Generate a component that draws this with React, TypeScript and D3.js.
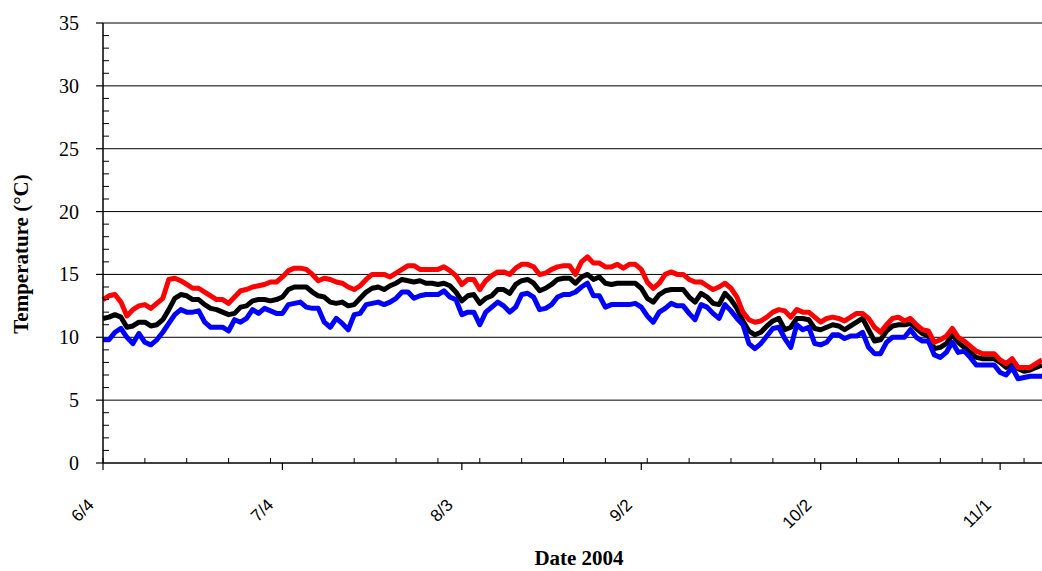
import React from "react";
import * as d3 from "d3";

const startDate = new Date(2004, 5, 4);
const dayCount = 157;
const yTicks = [0, 5, 10, 15, 20, 25, 30, 35];
const xTickEvery = 30;
const xMinorEvery = 7;

// Daily maximum (red), mean (black), minimum (blue) temperatures from 6/4/2004
const maxTemp = [
  13.0, 13.3, 13.4, 12.8, 11.7, 12.2, 12.5, 12.6, 12.3, 12.7, 13.1, 14.6, 14.7, 14.5, 14.2, 13.9,
  13.9, 13.6, 13.3, 13.0, 13.0, 12.7, 13.2, 13.7, 13.8, 14.0, 14.1, 14.2, 14.4, 14.4, 14.8, 15.3,
  15.5, 15.5, 15.4, 15.0, 14.5, 14.7, 14.6, 14.4, 14.3, 14.0, 13.8, 14.1, 14.6, 15.0, 15.0, 15.0,
  14.8, 15.1, 15.4, 15.7, 15.7, 15.4, 15.4, 15.4, 15.4, 15.6, 15.3, 14.9, 14.2, 14.6, 14.6,
  13.8, 14.5, 14.9, 15.2, 15.2, 15.0, 15.5, 15.8, 15.8, 15.6, 15.0, 15.1, 15.4, 15.6, 15.7, 15.7,
  15.0, 16.0, 16.4, 15.9, 15.9, 15.6, 15.6, 15.8, 15.5, 15.8, 15.8, 15.4, 14.4, 13.9, 14.3, 15.0,
  15.2, 15.0, 15.0, 14.6, 14.4, 14.4, 14.1, 13.8, 14.0, 14.3, 13.9, 13.2, 12.0, 11.4, 11.2, 11.3,
  11.6, 12.0, 12.2, 12.1, 11.6, 12.2, 12.0, 12.0, 11.6, 11.2, 11.5, 11.6, 11.5, 11.3, 11.6,
  11.9, 11.9, 11.5, 10.8, 10.4, 11.0, 11.5, 11.6, 11.3, 11.5, 11.0, 10.6, 10.5, 9.6, 9.8, 10.1,
  10.7, 10.0, 9.7, 9.3, 8.9, 8.7, 8.7, 8.7, 8.2, 7.9, 8.3, 7.6, 7.6, 7.6, 7.9, 8.2,
];

const meanTemp = [
  11.5, 11.6, 11.8, 11.6, 10.8, 10.9, 11.2, 11.2, 10.9, 11.0, 11.4, 12.2, 13.1, 13.4, 13.3, 13.0,
  13.0, 12.6, 12.3, 12.2, 12.0, 11.8, 11.9, 12.4, 12.5, 12.9, 13.0, 13.0, 12.9, 13.0, 13.2, 13.8,
  14.0, 14.0, 14.0, 13.6, 13.3, 13.2, 12.8, 12.7, 12.8, 12.5, 12.6, 13.1, 13.6, 13.9, 14.0, 13.8,
  14.1, 14.3, 14.6, 14.5, 14.4, 14.5, 14.3, 14.3, 14.2, 14.3, 14.1, 13.6, 12.9, 13.3, 13.4,
  12.7, 13.1, 13.3, 13.8, 13.8, 13.5, 14.2, 14.5, 14.6, 14.3, 13.7, 13.9, 14.2, 14.6, 14.7, 14.7,
  14.3, 14.8, 15.0, 14.6, 14.8, 14.3, 14.2, 14.3, 14.3, 14.3, 14.3, 13.9, 13.1, 12.8, 13.4, 13.7,
  13.8, 13.8, 13.8, 13.2, 12.8, 13.5, 13.2, 12.7, 12.6, 13.5, 13.0, 12.3, 11.3, 10.5, 10.2, 10.4,
  10.9, 11.3, 11.5, 10.6, 10.8, 11.5, 11.5, 11.4, 10.7, 10.6, 10.8, 11.0, 10.9, 10.6, 10.9,
  11.2, 11.5, 10.6, 9.7, 9.8, 10.5, 10.9, 11.0, 11.0, 11.1, 10.7, 10.3, 10.1, 9.1, 9.2, 9.5,
  10.2, 9.6, 9.2, 8.8, 8.4, 8.3, 8.3, 8.3, 8.0, 7.6, 7.9, 7.5, 7.3, 7.4, 7.6, 7.8,
];

const minTemp = [
  9.8, 9.8, 10.4, 10.7, 10.0, 9.5, 10.3, 9.6, 9.4, 9.8, 10.4, 11.1, 11.8, 12.2, 12.0, 12.0,
  12.1, 11.2, 10.8, 10.8, 10.8, 10.5, 11.4, 11.2, 11.5, 12.2, 11.9, 12.3, 12.1, 11.9, 11.9, 12.6,
  12.7, 12.8, 12.4, 12.3, 12.3, 11.2, 10.8, 11.5, 11.1, 10.6, 11.8, 11.9, 12.6, 12.7, 12.8, 12.6,
  12.8, 13.1, 13.6, 13.6, 13.1, 13.3, 13.4, 13.4, 13.4, 13.7, 13.2, 13.0, 11.8, 12.0, 12.0,
  11.0, 12.0, 12.4, 12.8, 12.5, 12.0, 12.4, 13.4, 13.5, 13.2, 12.2, 12.3, 12.6, 13.2, 13.4, 13.4,
  13.6, 14.0, 14.3, 13.3, 13.3, 12.4, 12.6, 12.6, 12.6, 12.6, 12.7, 12.4, 11.7, 11.2, 12.0, 12.3,
  12.7, 12.5, 12.5, 11.9, 11.4, 12.6, 12.4, 11.9, 11.5, 12.6, 12.1, 11.5, 11.0, 9.5, 9.1, 9.5,
  10.1, 10.7, 10.8, 9.9, 9.2, 11.0, 10.6, 10.8, 9.5, 9.4, 9.6, 10.2, 10.2, 9.9, 10.1,
  10.1, 10.4, 9.2, 8.7, 8.7, 9.6, 10.0, 10.0, 10.0, 10.6, 10.0, 9.7, 9.7, 8.6, 8.4, 8.8,
  9.6, 8.8, 8.9, 8.4, 7.8, 7.8, 7.8, 7.8, 7.2, 7.0, 7.6, 6.7, 6.8, 6.9, 6.9, 6.9,
];

const W = 1042;
const H = 571;
const left = 103;
const right = 1042;
const top = 23;
const bottom = 463;

export default function App() {
  const endDate = d3.timeDay.offset(startDate, dayCount);
  const x = d3.scaleTime().domain([startDate, endDate]).range([left, right]);
  const y = d3.scaleLinear().domain([0, 35]).range([bottom, top]);
  const dates = maxTemp.map((_, i) => d3.timeDay.offset(startDate, i));
  const fmt = d3.timeFormat("%-m/%-d");

  const majorX = d3.range(0, dayCount + 1, xTickEvery).map((i) => d3.timeDay.offset(startDate, i));
  const minorX = d3.range(0, dayCount + 1, xMinorEvery).map((i) => d3.timeDay.offset(startDate, i));
  const minorY = d3.range(0, 36, 1).filter((v) => v % 5 !== 0);

  const mk = (vals: number[]) =>
    d3
      .line<number>()
      .x((_, i) => x(dates[i]))
      .y((v) => y(v))(vals) as string;

  const series = [
    { vals: meanTemp, color: "#000000" },
    { vals: minTemp, color: "#0000FF" },
    { vals: maxTemp, color: "#FF0000" },
  ];

  return (
    <div style={{ position: "absolute", left: 0, top: 0 }}>
      <svg width={W} height={H} style={{ display: "block", background: "#fff" }}>
        <rect x={0} y={0} width={W} height={H} fill="#fff" />
        {yTicks.filter((v) => v > 0).map((v) => (
          <line key={"g" + v} x1={left} x2={right} y1={y(v)} y2={y(v)} stroke="#000" strokeWidth={1} />
        ))}
        {series.map((s, i) => (
          <path key={i} d={mk(s.vals)} fill="none" stroke={s.color} strokeWidth={5} strokeLinejoin="round" strokeLinecap="butt" />
        ))}
        {/* y axis */}
        <line x1={left} x2={left} y1={top} y2={bottom} stroke="#000" strokeWidth={1.5} />
        {yTicks.map((v) => (
          <g key={"yt" + v}>
            <line x1={left - 7} x2={left} y1={y(v)} y2={y(v)} stroke="#000" strokeWidth={1.2} />
            <text x={79} y={y(v)} dy="0.35em" textAnchor="end" fontFamily="'Liberation Serif', 'Times New Roman', serif" fontSize={20} fill="#000">
              {v}
            </text>
          </g>
        ))}
        {minorY.map((v) => (
          <line key={"ym" + v} x1={left} x2={left + 6} y1={y(v)} y2={y(v)} stroke="#000" strokeWidth={1} />
        ))}
        {/* x axis */}
        <line x1={left} x2={right} y1={bottom} y2={bottom} stroke="#000" strokeWidth={1.5} />
        {minorX.map((d, i) => (
          <line key={"xm" + i} x1={x(d)} x2={x(d)} y1={bottom - 5} y2={bottom} stroke="#000" strokeWidth={1} />
        ))}
        {majorX.map((d, i) => (
          <g key={"xt" + i}>
            <line x1={x(d)} x2={x(d)} y1={bottom} y2={bottom + 7} stroke="#000" strokeWidth={1.2} />
            <text
              transform={`translate(${x(d) - 8},${506}) rotate(-45)`}
              textAnchor="end"
              fontFamily="'Liberation Sans', Arial, sans-serif"
              fontSize={17}
              fill="#000"
            >
              {fmt(d)}
            </text>
          </g>
        ))}
        <text
          transform={`translate(28,254) rotate(-90)`}
          textAnchor="middle"
          fontFamily="'Liberation Serif', 'Times New Roman', serif"
          fontWeight="bold"
          fontSize={21}
          fill="#000"
        >
          Temperature (°C)
        </text>
        <text x={579} y={565} textAnchor="middle" fontFamily="'Liberation Serif', 'Times New Roman', serif" fontWeight="bold" fontSize={21} fill="#000">
          Date 2004
        </text>
      </svg>
    </div>
  );
}
